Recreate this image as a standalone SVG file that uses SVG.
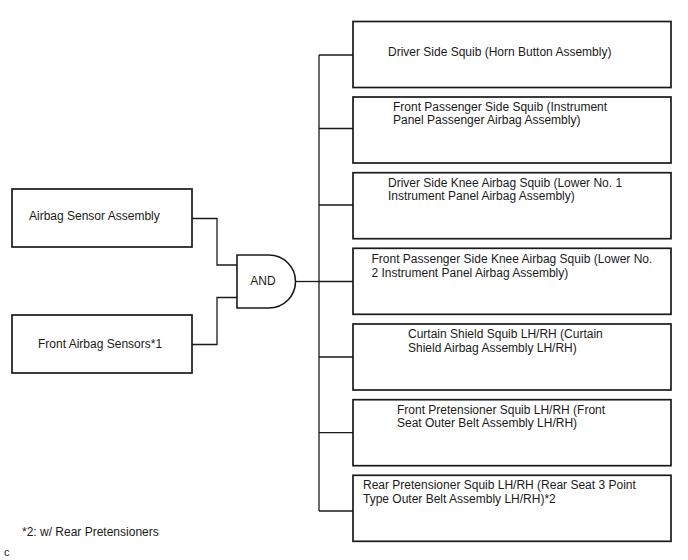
<svg xmlns="http://www.w3.org/2000/svg" width="688" height="560" viewBox="0 0 688 560">
<style>
.box{fill:#fff;stroke:#1a1a1a;stroke-width:1.7}
.gate{fill:#fff;stroke:#1a1a1a;stroke-width:1.6}
.wire{fill:none;stroke:#1a1a1a;stroke-width:1.3}
text{font-family:"Liberation Sans",Arial,sans-serif;font-size:12px;fill:#1a1a1a}
</style>
<rect width="688" height="560" fill="#fff"/>
<g id="connectors">
<path class="wire" d="M192,218.5 H217 V265 H237"/>
<path class="wire" d="M192,344.5 H217 V297.5 H237"/>
<path class="wire" d="M295.5,281.5 H319"/>
<path class="wire" d="M319,55 V511"/>
<path class="wire" d="M319,55 H353 M319,128.5 H353 M319,205 H353 M319,281.5 H353 M319,357 H353 M319,432.7 H353 M319,511 H353"/>
</g>
<g id="airbag-sensor-assembly">
<rect class="box" x="12" y="189" width="180" height="58"/>
<text x="29" y="220">Airbag Sensor Assembly</text>
</g>
<g id="front-airbag-sensors">
<rect class="box" x="12" y="315" width="180" height="58"/>
<text x="38" y="348">Front Airbag Sensors*1</text>
</g>
<g id="and-gate">
<path class="gate" d="M237,255 H269 A26.5,26.5 0 0 1 269,308 H237 Z"/>
<text x="263" y="285" text-anchor="middle">AND</text>
</g>
<g id="driver-side-squib">
<rect class="box" x="353" y="21.5" width="318" height="66"/>
<text x="388" y="56">Driver Side Squib (Horn Button Assembly)</text>
</g>
<g id="front-passenger-side-squib">
<rect class="box" x="353" y="97" width="318" height="66"/>
<text x="393" y="110.5">Front Passenger Side Squib (Instrument</text>
<text x="393" y="124">Panel Passenger Airbag Assembly)</text>
</g>
<g id="driver-side-knee-airbag-squib">
<rect class="box" x="353" y="172.7" width="318" height="66"/>
<text x="388" y="186.5">Driver Side Knee Airbag Squib (Lower No. 1</text>
<text x="388" y="200">Instrument Panel Airbag Assembly)</text>
</g>
<g id="front-passenger-side-knee-airbag-squib">
<rect class="box" x="353" y="248.3" width="318" height="66"/>
<text x="371.5" y="263">Front Passenger Side Knee Airbag Squib (Lower No.</text>
<text x="371.5" y="276.5">2 Instrument Panel Airbag Assembly)</text>
</g>
<g id="curtain-shield-squib">
<rect class="box" x="353" y="324" width="318" height="66"/>
<text x="408" y="338">Curtain Shield Squib LH/RH (Curtain</text>
<text x="408" y="351.5">Shield Airbag Assembly LH/RH)</text>
</g>
<g id="front-pretensioner-squib">
<rect class="box" x="353" y="399.7" width="318" height="66"/>
<text x="397" y="413.5">Front Pretensioner Squib LH/RH (Front</text>
<text x="397" y="427">Seat Outer Belt Assembly LH/RH)</text>
</g>
<g id="rear-pretensioner-squib">
<rect class="box" x="353" y="475.3" width="318" height="66"/>
<text x="363" y="489">Rear Pretensioner Squib LH/RH (Rear Seat 3 Point</text>
<text x="363" y="502.5">Type Outer Belt Assembly LH/RH)*2</text>
</g>
<text x="22" y="536">*2: w/ Rear Pretensioners</text>
<text x="4" y="556" style="font-size:11px">c</text>
</svg>
